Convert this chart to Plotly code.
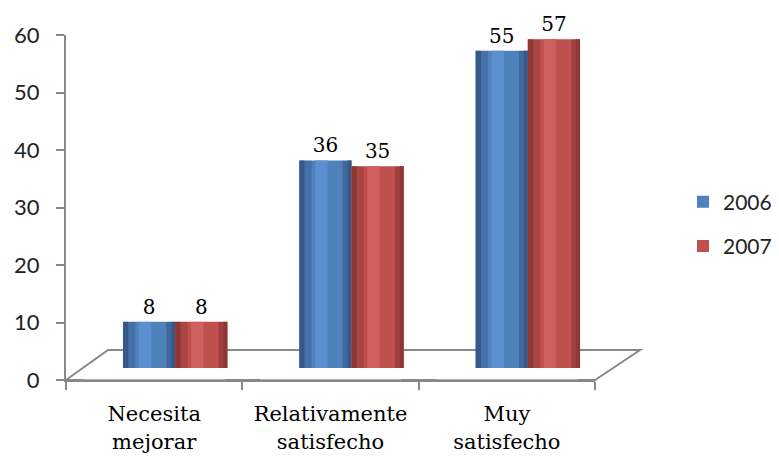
import plotly.graph_objects as go

categories = ["Necesita<br>mejorar", "Relativamente<br>satisfecho", "Muy<br>satisfecho"]
series_names = ["2006", "2007"]
values_2006 = [8, 36, 55]
values_2007 = [8, 35, 57]
y_ticks = [0, 10, 20, 30, 40, 50, 60]

colors = {"2006": "#4F81BD", "2007": "#C0504D"}
shade_dark = {"2006": "#36598A", "2007": "#8E3735"}
shade_light = {"2006": "#5C8FCF", "2007": "#D0605D"}

SERIF = "DejaVu Serif"
SANS = "Lato, Open Sans, sans-serif"

W, H = 779, 462
L, R, T, B = 66, 139, 20, 82
pw, ph = W - L - R, H - T - B

def px_x(x):
    return (x - L) / pw

def px_y(y):
    return (H - B - y) / ph

BW = 0.296  # bar width in category units
offsets = {"2006": -BW, "2007": 0.0}

fig = go.Figure()
for name, vals in zip(series_names, [values_2006, values_2007]):
    off = offsets[name]
    fig.add_trace(go.Bar(
        x=categories, y=vals, name=name, legendgroup=name,
        width=BW, offset=off,
        marker=dict(color=colors[name], line=dict(width=0)),
        text=[str(v) for v in vals], textposition="outside",
        textfont=dict(family=SERIF, size=20, color="black"),
        cliponaxis=False, xaxis="x2", yaxis="y2",
    ))
    # cylinder-like shading strips
    for w, o, c in [
        (0.030, off, shade_dark[name]),
        (0.040, off + 0.030, "rgba(0,0,0,0.12)"),
        (0.070, off + 0.090, shade_light[name]),
        (0.050, off + BW - 0.050, "rgba(0,0,0,0.18)"),
        (0.022, off + BW - 0.022, shade_dark[name]),
    ]:
        fig.add_trace(go.Bar(
            x=categories, y=vals, width=w, offset=o, showlegend=False,
            legendgroup=name, hoverinfo="skip",
            marker=dict(color=c, line=dict(width=0)),
            xaxis="x2", yaxis="y2",
        ))

# invisible trace to hold the front axes
fig.add_trace(go.Bar(x=categories, y=[0, 0, 0], showlegend=False,
                     marker=dict(color="rgba(0,0,0,0)"), hoverinfo="skip"))

axis_color = "#888888"
fig.update_layout(
    width=W, height=H,
    margin=dict(l=L, r=R, t=T, b=B, autoexpand=False),
    paper_bgcolor="white", plot_bgcolor="rgba(0,0,0,0)",
    barmode="overlay",
    showlegend=True,
    legend=dict(x=px_x(683), y=px_y(224), xanchor="left", yanchor="middle",
                font=dict(family=SANS, size=21, color="#222222"),
                tracegroupgap=14, bgcolor="rgba(0,0,0,0)"),
    xaxis=dict(domain=[0, px_x(595)], anchor="y", showline=True, linecolor=axis_color,
               linewidth=2, ticks="outside", tickson="boundaries", ticklen=8,
               tickcolor=axis_color, tickwidth=2, showgrid=False, automargin=False,
               ticklabelstandoff=14,
               tickfont=dict(family=SERIF, size=21, color="black")),
    yaxis=dict(domain=[0, px_y(35)], anchor="x", range=[0, 60], tickvals=y_ticks,
               showline=True, linecolor=axis_color, linewidth=2, ticks="outside",
               ticklen=8, tickcolor=axis_color, tickwidth=2, showgrid=False,
               zeroline=False, ticklabelstandoff=12, automargin=False,
               tickfont=dict(family=SANS, size=22, color="#222222")),
    xaxis2=dict(domain=[px_x(66 + 21), px_x(595 + 21)], anchor="y2", visible=False),
    yaxis2=dict(domain=[px_y(368), px_y(22)], anchor="x2", range=[0, 60], visible=False),
    shapes=[dict(type="path", xref="paper", yref="paper", layer="below",
                 path=f"M {px_x(66)} {px_y(380)} L {px_x(108)} {px_y(350)} L {px_x(640)} {px_y(350)} L {px_x(595)} {px_y(380)} Z",
                 line=dict(color=axis_color, width=2), fillcolor="rgba(0,0,0,0)")],
)

fig.write_html("out.html")
